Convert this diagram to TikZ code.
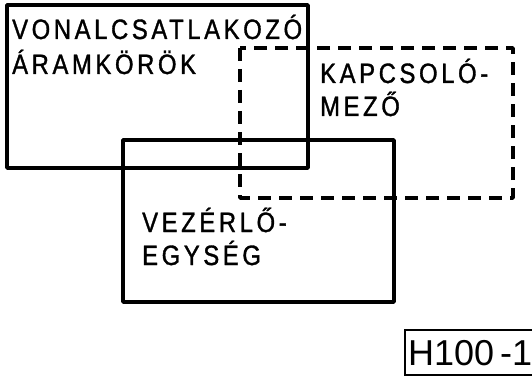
\documentclass[tikz,border=0pt]{standalone}
\usepackage{fontspec}
\setmainfont{Liberation Sans}
\newfontfamily\letterfont{Liberation Sans}[LetterSpace=13, FakeStretch=0.85, FakeBold=1.2]
\tikzset{
  blockline/.style={line width=3.4pt, line join=round},
  dashline/.style={blockline, dash pattern=on 13pt off 8pt},
  lbl/.style={font=\letterfont\fontsize{28}{28}\selectfont, inner sep=0pt, anchor=base west},
}
\begin{document}
\begin{tikzpicture}[x=1pt, y=-1pt]
  \useasboundingbox (0,0) rectangle (532,377);
  \clip (0,0) rectangle (532,377);
  % blocks
  \draw[blockline] (7,5) rectangle (308,168);
  \draw[dashline] (240,48) rectangle (513,198);
  \draw[blockline] (123,140) rectangle (394,302);
  % labels
  \node[lbl] (vonal) at (12,39) {VONALCSATLAKOZÓ};
  \node[lbl] (aram) at (12,74) {ÁRAMKÖRÖK};
  \node[lbl] (kapcs) at (320,83) {KAPCSOLÓ-};
  \node[lbl] (mezo) at (320,116) {MEZŐ};
  \node[lbl] (vezer) at (142,232) {VEZÉRLŐ-};
  \node[lbl] (egys) at (142,265) {EGYSÉG};
  % drawing number
  \draw[line width=1.8pt] (540,330) -| (405,375) -- (540,375);
  \node[font=\fontsize{36}{36}\selectfont, inner sep=0pt, anchor=base west] (num) at (408,365) {H100\,-1};
\end{tikzpicture}
\end{document}
